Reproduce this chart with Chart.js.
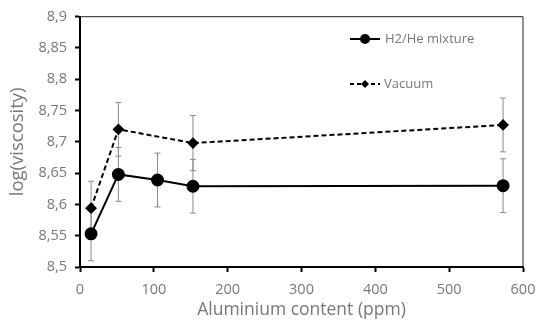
<!DOCTYPE html>
<html>
<head>
<meta charset="utf-8">
<script src="https://cdn.jsdelivr.net/npm/chart.js@4"></script>
<style>
  html, body { margin: 0; padding: 0; background: #fff; }
  #wrap { width: 536px; height: 321px; }
</style>
</head>
<body>
<div id="wrap"><canvas id="chart"></canvas></div>
<script>
// values
const h2He_x = [15, 52, 105, 153, 573];
const h2He_y = [8.553, 8.648, 8.639, 8.629, 8.630];
const h2He_err = [0.043, 0.043, 0.043, 0.043, 0.043];

const vacuum_x = [15, 52, 153, 573];
const vacuum_y = [8.594, 8.720, 8.698, 8.727];
const vacuum_err = [0.043, 0.043, 0.044, 0.043];

const xTicks = [0, 100, 200, 300, 400, 500, 600];
const yTicks = [8.5, 8.55, 8.6, 8.65, 8.7, 8.75, 8.8, 8.85, 8.9];

const labelFont = "'Open Sans', sans-serif";
const grey = "#777";

const toPoints = (xs, ys) => xs.map((x, i) => ({ x: x, y: ys[i] }));

// error bars + box frame + in-plot legend
const extras = {
  id: "extras",
  beforeDatasetsDraw(chart) {
    const ctx = chart.ctx;
    const xs = chart.scales.x, ys = chart.scales.y;
    ctx.save();
    ctx.strokeStyle = "#8a8a8a";
    ctx.lineWidth = 1;
    const bars = [[h2He_x, h2He_y, h2He_err], [vacuum_x, vacuum_y, vacuum_err]];
    bars.forEach(([bx, by, be]) => {
      bx.forEach((x, i) => {
        const px = xs.getPixelForValue(x);
        const top = ys.getPixelForValue(by[i] + be[i]);
        const bot = ys.getPixelForValue(by[i] - be[i]);
        ctx.beginPath();
        ctx.moveTo(px, top); ctx.lineTo(px, bot);
        ctx.moveTo(px - 3, top); ctx.lineTo(px + 3, top);
        ctx.moveTo(px - 3, bot); ctx.lineTo(px + 3, bot);
        ctx.stroke();
      });
    });
    // top and right frame
    const a = chart.chartArea;
    ctx.strokeStyle = "#222";
    ctx.lineWidth = 1;
    ctx.beginPath();
    ctx.moveTo(a.left, a.top); ctx.lineTo(a.right, a.top); ctx.lineTo(a.right, a.bottom);
    ctx.stroke();
    ctx.restore();
  },
  afterDatasetsDraw(chart) {
    const ctx = chart.ctx;
    const a = chart.chartArea;
    ctx.save();
    const lx = a.left + 270;
    // H2/He entry
    let y = 39;
    ctx.strokeStyle = "#000";
    ctx.lineWidth = 2;
    ctx.setLineDash([]);
    ctx.beginPath(); ctx.moveTo(lx, y); ctx.lineTo(lx + 30, y); ctx.stroke();
    ctx.fillStyle = "#000";
    ctx.beginPath(); ctx.arc(lx + 15, y, 5, 0, Math.PI * 2); ctx.fill();
    ctx.fillStyle = grey;
    ctx.font = "13px " + labelFont;
    ctx.textBaseline = "middle";
    ctx.fillText("H2/He mixture", lx + 35, y);
    // Vacuum entry
    y = 84;
    ctx.setLineDash([4, 3]);
    ctx.beginPath(); ctx.moveTo(lx, y); ctx.lineTo(lx + 30, y); ctx.stroke();
    ctx.setLineDash([]);
    ctx.fillStyle = "#000";
    ctx.beginPath();
    ctx.moveTo(lx + 15, y - 4); ctx.lineTo(lx + 19, y); ctx.lineTo(lx + 15, y + 4); ctx.lineTo(lx + 11, y);
    ctx.closePath(); ctx.fill();
    ctx.fillStyle = grey;
    ctx.fillText("Vacuum", lx + 34, y);
    ctx.restore();
  }
};

new Chart(document.getElementById("chart"), {
  type: "scatter",
  data: {
    datasets: [
      {
        label: "H2/He mixture",
        data: toPoints(h2He_x, h2He_y),
        showLine: true,
        borderColor: "#000",
        backgroundColor: "#000",
        borderWidth: 2,
        pointStyle: "circle",
        pointRadius: 5.5,
        pointHoverRadius: 5.5,
      },
      {
        label: "Vacuum",
        data: toPoints(vacuum_x, vacuum_y),
        showLine: true,
        borderColor: "#000",
        backgroundColor: "#000",
        borderWidth: 2,
        borderDash: [5, 3],
        pointStyle: "rectRot",
        pointRadius: 4.5,
        pointHoverRadius: 4.5,
      },
    ],
  },
  options: {
    responsive: true,
    maintainAspectRatio: false,
    animation: false,
    layout: { padding: { top: 13.5, right: 13, bottom: 0, left: 7 } },
    plugins: {
      legend: { display: false },
      tooltip: { enabled: false },
    },
    scales: {
      x: {
        type: "linear",
        min: 0,
        max: 600,
        afterBuildTicks: (s) => { s.ticks = xTicks.map((v) => ({ value: v })); },
        afterFit: (s) => { s.height = 54; s.paddingLeft = 0; s.paddingRight = 0; },
        border: { color: "#000", width: 2 },
        grid: { drawOnChartArea: false, color: "#000", tickLength: 5, tickWidth: 2 },
        ticks: { color: grey, font: { family: labelFont, size: 14.5 }, padding: 9, maxRotation: 0 },
        title: {
          display: true,
          text: "Aluminium content (ppm)",
          color: grey,
          font: { family: labelFont, size: 17.5 },
          padding: { top: 2, bottom: 0 },
        },
      },
      y: {
        min: 8.5,
        max: 8.9,
        afterBuildTicks: (s) => { s.ticks = yTicks.map((v) => ({ value: v })); },
        afterFit: (s) => { s.width = 73; },
        border: { color: "#000", width: 2 },
        grid: { drawOnChartArea: false, color: "#000", tickLength: 5, tickWidth: 2 },
        ticks: {
          color: grey,
          font: { family: labelFont, size: 14.5 },
          padding: 8,
          callback: (v) => String(Math.round(v * 100) / 100).replace(".", ","),
        },
        title: {
          display: true,
          text: "log(viscosity)",
          color: grey,
          font: { family: labelFont, size: 18.5 },
          padding: { top: 0, bottom: 0 },
        },
      },
    },
  },
  plugins: [extras],
});
</script>
</body>
</html>
